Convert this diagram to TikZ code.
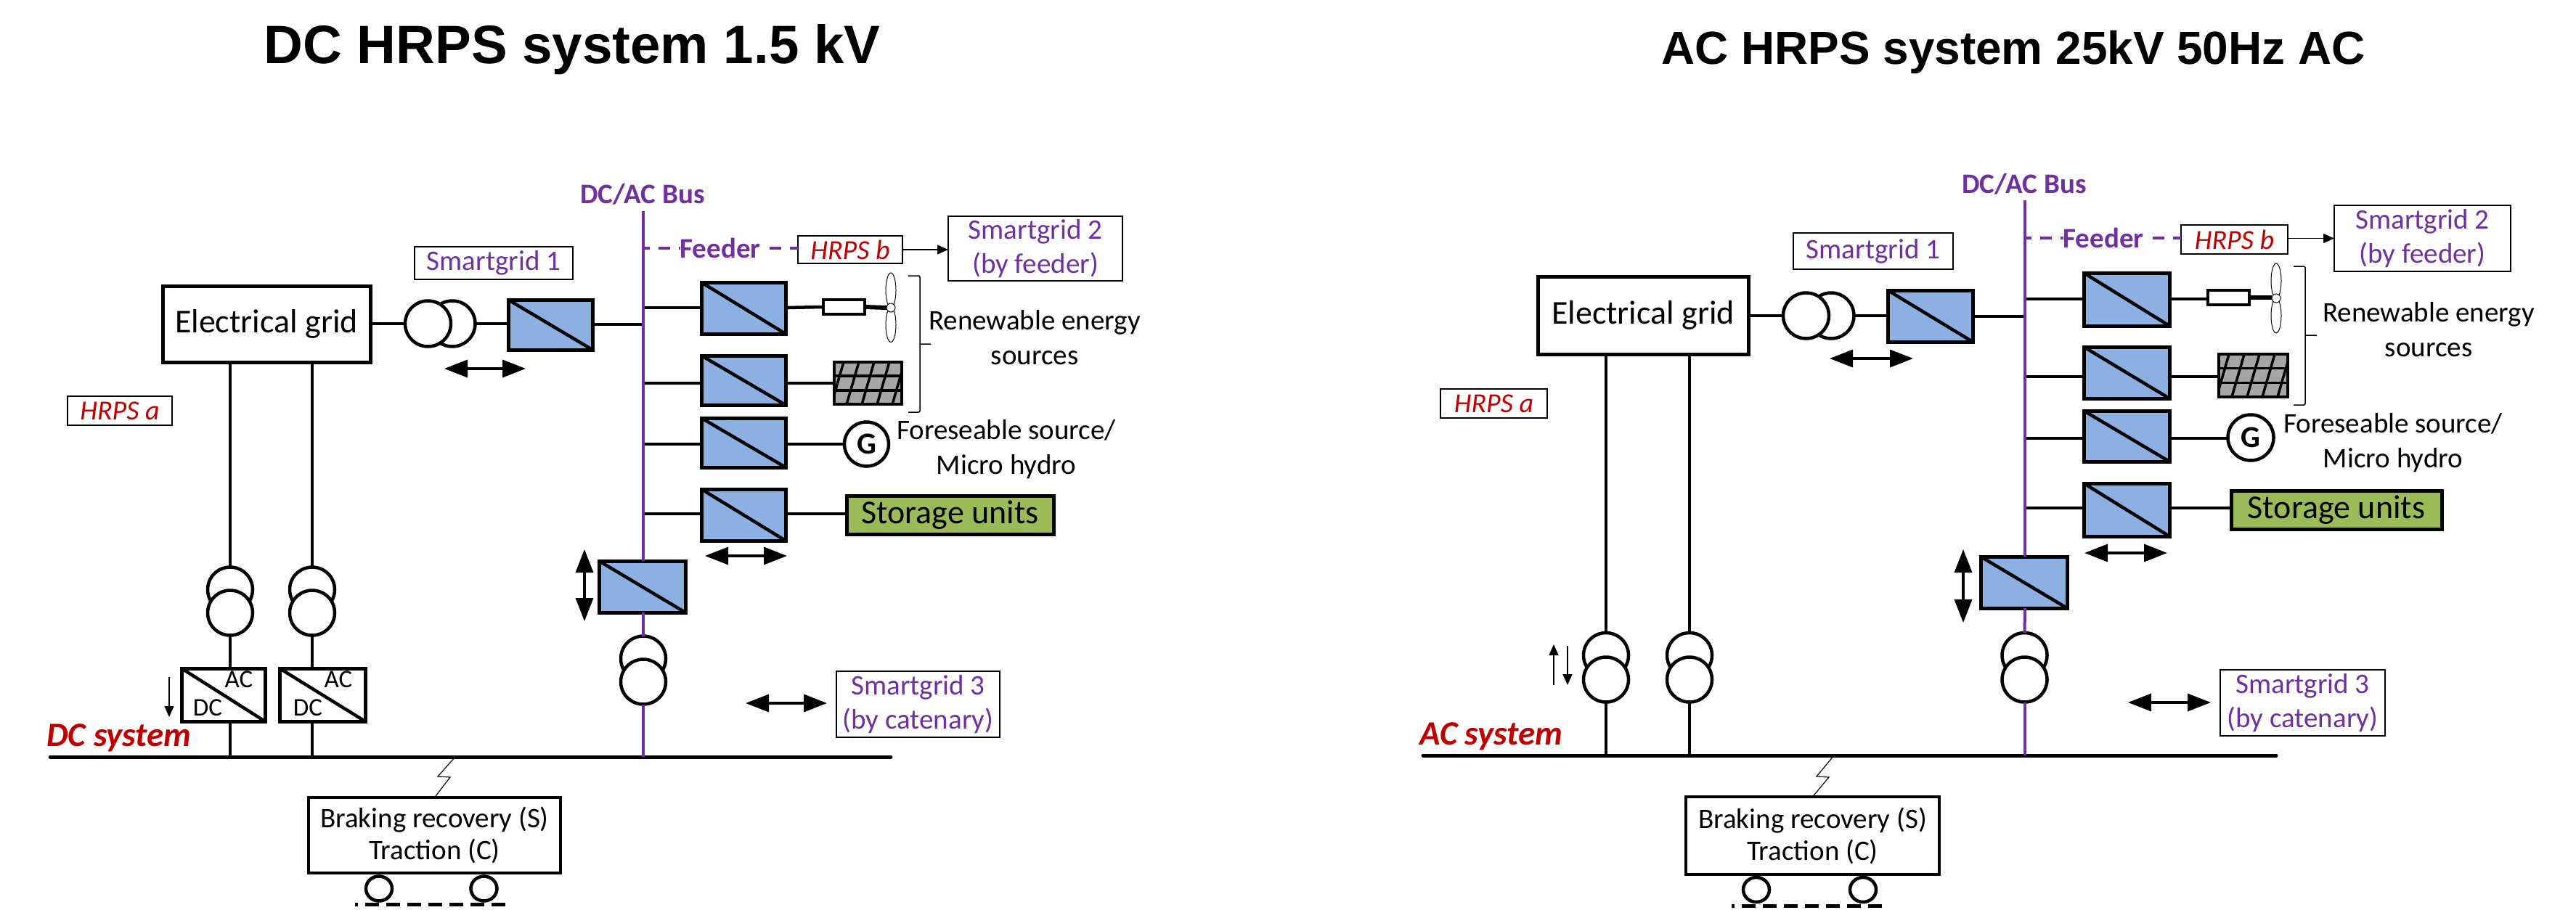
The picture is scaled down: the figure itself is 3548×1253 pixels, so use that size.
\documentclass[tikz,border=0pt]{standalone}
\usepackage{fontspec}
\setmainfont{Carlito}
\newfontfamily\titlefont{Liberation Sans}
\usetikzlibrary{arrows.meta, positioning, shapes.geometric}
\definecolor{busviolet}{RGB}{112,48,160}
\definecolor{hrpsred}{RGB}{192,0,0}
\definecolor{convblue}{RGB}{141,176,227}
\definecolor{storegreen}{RGB}{155,187,89}
\definecolor{pvgray}{RGB}{166,166,166}

\begin{document}
\begin{tikzpicture}[
  x=1pt, y=-1pt, inner sep=0pt, outer sep=0pt,
  txt/.style={font=\fontsize{39}{47.5}\selectfont, align=center},
  btxt/.style={font=\fontsize{39}{47.5}\selectfont\bfseries, text=busviolet},
  dim/.style 2 args={minimum width=#1pt, minimum height=#2pt},
  conv/.style 2 args={rectangle, draw, line width=5pt, fill=convblue, dim={#1}{#2},
              path picture={\draw[line width=4.5pt] (path picture bounding box.north west)
              -- (path picture bounding box.south east);}},
  acdc/.style 2 args={conv={#1}{#2}, fill=white},
  grid/.style 2 args={rectangle, draw, line width=5pt, dim={#1}{#2},
              font=\fontsize{46}{55}\selectfont},
  store/.style 2 args={grid={#1}{#2}, fill=storegreen},
  train/.style 2 args={rectangle, draw, line width=4.5pt, dim={#1}{#2}, txt,
              font=\fontsize{39}{44}\selectfont},
  sgbox/.style 2 args={rectangle, draw, line width=2.5pt, dim={#1}{#2}, txt, text=busviolet},
  hrps/.style 2 args={rectangle, draw, line width=2.5pt, dim={#1}{#2}, text=hrpsred,
              font=\fontsize{38}{46}\selectfont\itshape},
  sysname/.style={text=hrpsred, font=\fontsize{47}{56}\selectfont\bfseries\itshape},
  trafo/.style={circle, draw, line width=4.5pt, fill=white, minimum size=#1pt},
  trafo/.default=62,
  gen/.style={circle, draw, line width=4.5pt, fill=white, minimum size=#1pt,
              font=\fontsize{42}{42}\selectfont\bfseries},
  res/.style={rectangle, draw, line width=4pt, fill=white, dim={57}{20}},
  pv/.style 2 args={rectangle, draw, line width=4pt, fill=pvgray, dim={#1}{#2},
              path picture={\begin{scope}[shift={(path picture bounding box.center)}]
              \draw[line width=3.5pt] (-50,-10) -- (50,-10) (-50,10) -- (50,10);
              \foreach \i in {-42,-21,0,21,42}
                \draw[line width=3.5pt] (\i-9,31) -- (\i+9,-31);
              \end{scope}}},
  blade/.style={ellipse, draw, line width=1pt, fill=white, dim={14}{#1}},
  hub/.style={circle, draw, line width=1pt, fill=white, minimum size=12pt},
  wheel/.style={ellipse, draw, line width=4.5pt, fill=white, dim={36}{34}},
  wire/.style={line width=4.5pt},
  feed/.style={line width=3.5pt},
  bus/.style={line width=4pt, busviolet},
  rail/.style={line width=5pt, line cap=round},
  feederdash/.style={line width=4pt, busviolet, dash pattern=on 16pt off 12pt, dash phase=7pt},
  track/.style={line width=5pt, dash pattern=on 19pt off 10pt, dash phase=15pt},
  thin/.style={line width=1.5pt, -{Triangle[length=15pt,width=13pt]}},
  dblar/.style={line width=3.5pt, {Triangle[length=32pt,width=24pt]}-{Triangle[length=32pt,width=24pt]}}]
\useasboundingbox (0,0) rectangle (3548,1253);
\fill[white] (0,0) rectangle (3548,1253);

% DC panel
\node[font=\fontsize{74.5}{80}\selectfont\titlefont\bfseries] (ltitle) at (788,68) {DC HRPS system 1.5 kV};
\node[grid={286}{105}] (lgrid) at (367,446.5) {Electrical grid};
\node[trafo=63] (lth2) at (623,446) {};
\node[trafo=63] (lth1) at (589.5,446) {};
\node[conv={116}{69}] (lcg) at (758,447.5) {};
\node[sgbox={218}{45}] (lsg1) at (680,362.5) {Smartgrid 1};
\node[hrps={144}{40}] (lha) at (165,566) {HRPS a};
\node[btxt] (lbusname) at (885,268) {DC/AC Bus};
\coordinate (lbust) at (886,291);
\node[btxt] (lfeeder) at (992,342) {Feeder};
\node[hrps={144}{38}] (lhb) at (1171,344) {HRPS b};
\node[sgbox={240}{89}] (lsg2) at (1426,342.5) {Smartgrid 2\\(by feeder)};
\node[conv={116}{71}] (lc1) at (1024,424.5) {};
\node[conv={116}{68}, below=30pt of lc1] (lc2) {};
\node[conv={116}{68}, below=18pt of lc2] (lc3) {};
\node[conv={116}{71}, below=30pt of lc3] (lc4) {};
\node[conv={119}{71}] (lc5) at (884.5,808.5) {};
\node[res] (lres) at (1162.5,423) {};
\node[blade=48] (lbu) at (1227,400) {};
\node[blade=48] (lbd) at (1227,447.5) {};
\node[hub] (lhub) at (1227,424) {};
\node[pv={93}{58}] (lpv) at (1195.5,528) {};
\node[gen=61] (lgen) at (1193.5,612) {G};
\node[store={285}{53}] (lstore) at (1308.5,709.5) {Storage units};
\node[txt] (lren) at (1425,465) {Renewable energy\\sources};
\node[txt] (lfor) at (1386,619) {Foreseable source/\\Micro hydro};
\node[trafo] (lt1u) at (317,812.5) {};
\node[trafo] (lt1d) at (317,844.5) {};
\node[trafo] (lt2u) at (430,812.5) {};
\node[trafo] (lt2d) at (430,844.5) {};
\node[trafo] (lt3u) at (886,907.5) {};
\node[trafo] (lt3d) at (886,939.5) {};
\node[acdc={115}{73}] (lad1) at (307.5,957.5) {};
\node[acdc={118}{73}] (lad2) at (444,957.5) {};
\node[font=\fontsize{35}{35}\selectfont] at (329,936) {AC};
\node[font=\fontsize{35}{35}\selectfont] at (286,975) {DC};
\node[font=\fontsize{35}{35}\selectfont] at (466,936) {AC};
\node[font=\fontsize{35}{35}\selectfont] at (424,975) {DC};
\node[sysname] (lsys) at (164,1017) {DC system};
\node[sgbox={225}{91}] (lsg3) at (1264.5,970.5) {Smartgrid 3\\(by catenary)};
\node[train={347}{104}] (ltrain) at (598.5,1151) {Braking recovery (S)\\Traction (C)};
\node[wheel] (lw1) at (522,1224.5) {};
\node[wheel] (lw2) at (666.5,1224.5) {};
\coordinate (lrail) at (69,1043); \coordinate (lrailr) at (1227,1043);
\coordinate (ltrk) at (489,1246); \coordinate (ltrkr) at (701,1246);
\coordinate (lw) at (886,424); \coordinate (lx) at (886,528);
\coordinate (ly) at (886,612); \coordinate (lz) at (886,708);
\coordinate (lgw) at (886,447);
\draw[wire] (lgrid.east |- lth1) -- (lth1); \draw[wire] (lth2.east) -- (lth2.east -| lcg.west);
\draw[wire] (lcg.east |- lgw) -- (lgw);
\draw[wire] (lw) -- (lw -| lc1.west); \draw[wire] (lw -| lc1.east) -- (lres.west);
\draw[line width=6pt] (lres.east) -- (lhub.west);
\draw[wire] (lx) -- (lx -| lc2.west); \draw[wire] (lx -| lc2.east) -- (lx -| lpv.west);
\draw[wire] (ly) -- (ly -| lc3.west); \draw[wire] (ly -| lc3.east) -- (lgen.west);
\draw[wire] (lz) -- (lz -| lc4.west); \draw[wire] (lz -| lc4.east) -- (lstore.west |- lz);
\draw[rail] (lrail) -- (lrailr);
\draw[feed] (lt1u |- lgrid.south) -- (lt1u.north); \draw[feed] (lt2u |- lgrid.south) -- (lt2u.north);
\draw[feed] (lt1d.south) -- (lt1d |- lad1.north); \draw[feed] (lt2d.south) -- (lt2d |- lad2.north);
\draw[feed] (lt1d |- lad1.south) -- (lt1d |- lrail); \draw[feed] (lt2d |- lad2.south) -- (lt2d |- lrail);
\draw[bus] (lbust) -- (lbust |- lc5.north); \draw[bus] (lbust |- lc5.south) -- (lt3u.north);
\draw[bus] (lt3d.south) -- (lt3d |- lrail);
\draw[feederdash] (lfeeder.west -| lbust) -- (lfeeder.west);
\draw[feederdash, dash phase=16pt] (lfeeder.east) -- (lhb.west |- lfeeder);
\draw[thin] (lhb.east) -- (lsg2.west |- lhb);
\draw[track] (ltrk) -- (ltrkr);
\draw[line width=1.2pt] (627,1043) -- ++(-24,27) -- ++(17,1) -- (ltrain.north);
\draw[line width=1.5pt, rounded corners=2pt] (1251,380) -- (1267,380) -- (1267,568) -- (1251,568) (1267,474) -- (1282,474);
\draw[thin] (233,933) -- (233,988);
\draw[dblar] (612,508) -- (724,508);
\draw[dblar] (971,766) -- (1084,766);
\draw[dblar] (805,757) -- (805,856);
\draw[dblar] (1027,969) -- (1139,969);

% AC panel
\node[font=\fontsize{63.9}{70}\selectfont\titlefont\bfseries] (rtitle) at (2773,72) {AC HRPS system 25kV 50Hz AC};
\node[grid={290}{107}] (rgrid) at (2263,434.5) {Electrical grid};
\node[trafo=63] (rth2) at (2522,435) {};
\node[trafo=63] (rth1) at (2487.5,435) {};
\node[conv={117}{71}] (rcg) at (2658.5,435.5) {};
\node[sgbox={220}{50}] (rsg1) at (2580,346) {Smartgrid 1};
\node[hrps={147}{40}] (rha) at (2057.5,556) {HRPS a};
\node[btxt] (rbusname) at (2788,254) {DC/AC Bus};
\coordinate (rbust) at (2789,276);
\node[btxt] (rfeeder) at (2897,328) {Feeder};
\node[hrps={147}{40}] (rhb) at (3077.5,330) {HRPS b};
\node[sgbox={243}{91}] (rsg2) at (3336.5,328.5) {Smartgrid 2\\(by feeder)};
\node[conv={118}{73}] (rc1) at (2929,412.5) {};
\node[conv={118}{71}, below=29pt of rc1] (rc2) {};
\node[conv={118}{70}, below=17pt of rc2] (rc3) {};
\node[conv={118}{73}, below=30pt of rc3] (rc4) {};
\node[conv={119}{71}] (rc5) at (2787.5,802.5) {};
\node[res] (rres) at (3069.5,410) {};
\node[blade=48] (rbu) at (3135,387) {};
\node[blade=48] (rbd) at (3135,435) {};
\node[hub] (rhub) at (3135,411) {};
\node[pv={95}{59}] (rpv) at (3103.5,517.5) {};
\node[gen=63] (rgen) at (3100,603) {G};
\node[store={290}{53}] (rstore) at (3218,702.5) {Storage units};
\node[txt] (rren) at (3345,454) {Renewable energy\\sources};
\node[txt] (rfor) at (3296,610) {Foreseable source/\\Micro hydro};
\node[trafo] (rt1u) at (2212,903) {};
\node[trafo] (rt1d) at (2212,936.5) {};
\node[trafo] (rt2u) at (2327,903) {};
\node[trafo] (rt2d) at (2327,936.5) {};
\node[trafo] (rt3u) at (2788.5,903) {};
\node[trafo] (rt3d) at (2788.5,936.5) {};
\node[sysname] (rsys) at (2054,1015) {AC system};
\node[sgbox={227}{91}] (rsg3) at (3171.5,968.5) {Smartgrid 3\\(by catenary)};
\node[train={349}{107}] (rtrain) at (2496.5,1151.5) {Braking recovery (S)\\Traction (C)};
\node[wheel] (rw1) at (2419,1226) {};
\node[wheel] (rw2) at (2566,1226) {};
\coordinate (rrail) at (1960,1041); \coordinate (rrailr) at (3135,1041);
\coordinate (rtrk) at (2385,1248); \coordinate (rtrkr) at (2601,1248);
\coordinate (rw) at (2789,412); \coordinate (rx) at (2789,519);
\coordinate (ry) at (2789,604); \coordinate (rz) at (2789,700);
\coordinate (rgw) at (2789,436);
\draw[wire] (rgrid.east |- rth1) -- (rth1); \draw[wire] (rth2.east) -- (rth2.east -| rcg.west);
\draw[wire] (rcg.east |- rgw) -- (rgw);
\draw[wire] (rw) -- (rw -| rc1.west); \draw[wire] (rw -| rc1.east) -- (rres.west |- rw);
\draw[line width=6pt] (rres.east) -- (rhub.west |- rres);
\draw[wire] (rx) -- (rx -| rc2.west); \draw[wire] (rx -| rc2.east) -- (rx -| rpv.west);
\draw[wire] (ry) -- (ry -| rc3.west); \draw[wire] (ry -| rc3.east) -- (rgen.west |- ry);
\draw[wire] (rz) -- (rz -| rc4.west); \draw[wire] (rz -| rc4.east) -- (rstore.west |- rz);
\draw[rail] (rrail) -- (rrailr);
\draw[feed] (rt1u |- rgrid.south) -- (rt1u.north); \draw[feed] (rt2u |- rgrid.south) -- (rt2u.north);
\draw[feed] (rt1d.south) -- (rt1d |- rrail); \draw[feed] (rt2d.south) -- (rt2d |- rrail);
\draw[bus] (rbust) -- (rbust |- rc5.north); \draw[bus] (rbust |- rc5.south) -- (rt3u.north);
\draw[bus] (rt3d.south) -- (rt3d |- rrail);
\draw[feederdash] (rfeeder.west -| rbust) -- (rfeeder.west);
\draw[feederdash, dash phase=16pt] (rfeeder.east) -- (rhb.west |- rfeeder);
\draw[thin] (rhb.east |- rsg2) -- (rsg2.west);
\draw[track] (rtrk) -- (rtrkr);
\draw[line width=1.2pt] (2526,1041) -- ++(-24,29) -- ++(17,1) -- (rtrain.north);
\draw[line width=1.5pt, rounded corners=2pt] (3159,367) -- (3175,367) -- (3175,558) -- (3159,558) (3175,462) -- (3191,462);
\draw[thin] (2140,944) -- (2140,888);
\draw[thin] (2159,890) -- (2159,944);
\draw[dblar] (2520,494) -- (2635,494);
\draw[dblar] (2871,762) -- (2985,762);
\draw[dblar] (2704,757) -- (2704,858);
\draw[dblar] (2931,968) -- (3045,968);
\end{tikzpicture}
\end{document}
